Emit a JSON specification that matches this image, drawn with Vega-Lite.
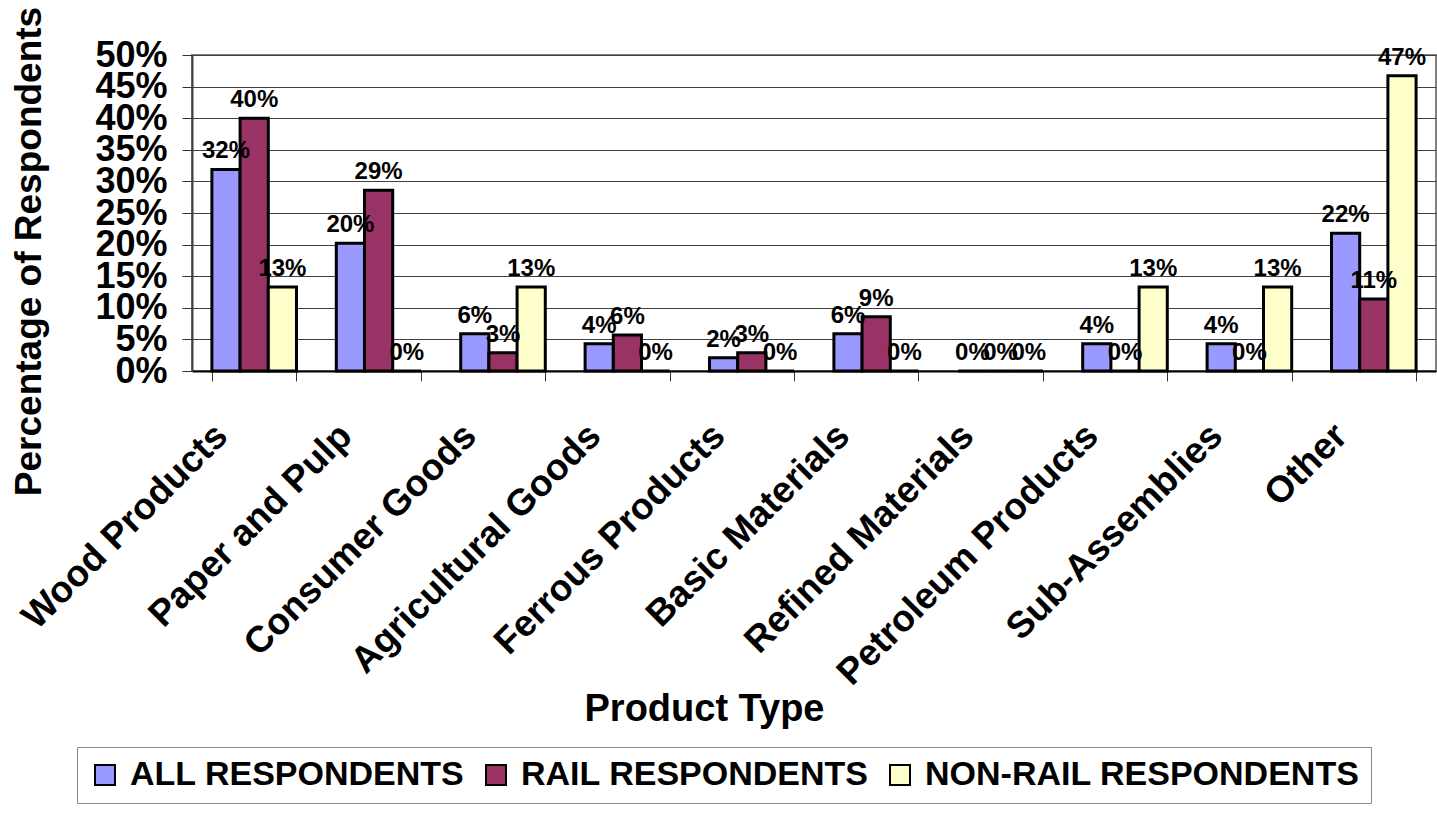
{
  "$schema": "https://vega.github.io/schema/vega-lite/v6.json",
  "autosize": {"type": "none"},
  "padding": {"left": 192, "top": 55, "right": 1, "bottom": 443},
  "width": 1244,
  "height": 316,
  "background": "white",
  "config": {
    "font": "Liberation Sans",
    "view": {"stroke": "#808080", "strokeWidth": 2}
  },
  "data": {
    "values": [
      {"product": "Wood Products", "series": "ALL RESPONDENTS", "value": 0.319},
      {"product": "Wood Products", "series": "RAIL RESPONDENTS", "value": 0.40},
      {"product": "Wood Products", "series": "NON-RAIL RESPONDENTS", "value": 0.133},
      {"product": "Paper and Pulp", "series": "ALL RESPONDENTS", "value": 0.202},
      {"product": "Paper and Pulp", "series": "RAIL RESPONDENTS", "value": 0.286},
      {"product": "Paper and Pulp", "series": "NON-RAIL RESPONDENTS", "value": 0},
      {"product": "Consumer Goods", "series": "ALL RESPONDENTS", "value": 0.059},
      {"product": "Consumer Goods", "series": "RAIL RESPONDENTS", "value": 0.029},
      {"product": "Consumer Goods", "series": "NON-RAIL RESPONDENTS", "value": 0.133},
      {"product": "Agricultural Goods", "series": "ALL RESPONDENTS", "value": 0.043},
      {"product": "Agricultural Goods", "series": "RAIL RESPONDENTS", "value": 0.057},
      {"product": "Agricultural Goods", "series": "NON-RAIL RESPONDENTS", "value": 0},
      {"product": "Ferrous Products", "series": "ALL RESPONDENTS", "value": 0.021},
      {"product": "Ferrous Products", "series": "RAIL RESPONDENTS", "value": 0.029},
      {"product": "Ferrous Products", "series": "NON-RAIL RESPONDENTS", "value": 0},
      {"product": "Basic Materials", "series": "ALL RESPONDENTS", "value": 0.059},
      {"product": "Basic Materials", "series": "RAIL RESPONDENTS", "value": 0.086},
      {"product": "Basic Materials", "series": "NON-RAIL RESPONDENTS", "value": 0},
      {"product": "Refined Materials", "series": "ALL RESPONDENTS", "value": 0},
      {"product": "Refined Materials", "series": "RAIL RESPONDENTS", "value": 0},
      {"product": "Refined Materials", "series": "NON-RAIL RESPONDENTS", "value": 0},
      {"product": "Petroleum Products", "series": "ALL RESPONDENTS", "value": 0.043},
      {"product": "Petroleum Products", "series": "RAIL RESPONDENTS", "value": 0},
      {"product": "Petroleum Products", "series": "NON-RAIL RESPONDENTS", "value": 0.133},
      {"product": "Sub-Assemblies", "series": "ALL RESPONDENTS", "value": 0.043},
      {"product": "Sub-Assemblies", "series": "RAIL RESPONDENTS", "value": 0},
      {"product": "Sub-Assemblies", "series": "NON-RAIL RESPONDENTS", "value": 0.133},
      {"product": "Other", "series": "ALL RESPONDENTS", "value": 0.218},
      {"product": "Other", "series": "RAIL RESPONDENTS", "value": 0.114},
      {"product": "Other", "series": "NON-RAIL RESPONDENTS", "value": 0.467}
    ]
  },
  "encoding": {
    "x": {
      "field": "product",
      "type": "nominal",
      "sort": null,
      "scale": {"paddingInner": 0.32, "paddingOuter": 0.16},
      "axis": {
        "title": "Product Type",
        "titleFontSize": 38,
        "titleFontWeight": "bold",
        "titleColor": "black",
        "titleX": 512,
        "titleY": 349,
        "titleAlign": "center",
        "titleBaseline": "alphabetic",
        "labelAngle": -45,
        "labelAlign": "right",
        "labelBaseline": "middle",
        "labelOffset": -33,
        "labelFontSize": 37,
        "labelFontWeight": "bold",
        "labelColor": "black",
        "labelPadding": 49,
        "labelLimit": 0,
        "labelOverlap": false,
        "tickBand": "extent",
        "tickSize": 10,
        "tickColor": "#333",
        "tickWidth": 1,
        "domainColor": "black",
        "domainWidth": 2,
        "grid": false
      }
    },
    "xOffset": {
      "field": "series",
      "type": "nominal",
      "sort": ["ALL RESPONDENTS", "RAIL RESPONDENTS", "NON-RAIL RESPONDENTS"]
    },
    "y": {
      "field": "value",
      "type": "quantitative",
      "scale": {"domain": [0, 0.5]},
      "axis": {
        "values": [0, 0.05, 0.1, 0.15, 0.2, 0.25, 0.3, 0.35, 0.4, 0.45, 0.5],
        "format": ".0%",
        "title": "Percentage of Respondents",
        "titleFontSize": 37,
        "titleFontWeight": "bold",
        "titleColor": "black",
        "titleAngle": -90,
        "titleX": -163,
        "titleY": 196,
        "titleAlign": "center",
        "titleBaseline": "middle",
        "labelFontSize": 36,
        "labelFontWeight": "bold",
        "labelColor": "black",
        "labelPadding": 15,
        "labelBaseline": "middle",
        "labelOverlap": false,
        "labelFlush": false,
        "tickSize": 10,
        "tickColor": "#333",
        "domainColor": "#404040",
        "domainWidth": 2,
        "grid": true,
        "gridColor": "#404040",
        "gridWidth": 1
      }
    }
  },
  "layer": [
    {
      "mark": {"type": "bar", "stroke": "black", "strokeWidth": 3},
      "encoding": {
        "color": {
          "field": "series",
          "type": "nominal",
          "sort": ["ALL RESPONDENTS", "RAIL RESPONDENTS", "NON-RAIL RESPONDENTS"],
          "scale": {
            "domain": ["ALL RESPONDENTS", "RAIL RESPONDENTS", "NON-RAIL RESPONDENTS"],
            "range": ["#9999FF", "#993366", "#FFFFCC"]
          },
          "legend": {
            "orient": "none",
            "legendX": -115,
            "legendY": 692,
            "direction": "horizontal",
            "columns": 3,
            "title": null,
            "symbolType": "square",
            "symbolSize": 400,
            "symbolStrokeColor": "black",
            "symbolStrokeWidth": 2,
            "symbolOpacity": 1,
            "labelFontSize": 34,
            "labelFontWeight": "bold",
            "labelColor": "black",
            "labelOffset": 8,
            "labelLimit": 0,
            "columnPadding": 14,
            "padding": 11,
            "strokeColor": "#888"
          }
        }
      }
    },
    {
      "mark": {"type": "text", "baseline": "alphabetic", "dy": -11, "fontSize": 24, "fontWeight": "bold", "color": "black"},
      "encoding": {
        "text": {"field": "value", "type": "quantitative", "format": ".0%"}
      }
    }
  ]
}
